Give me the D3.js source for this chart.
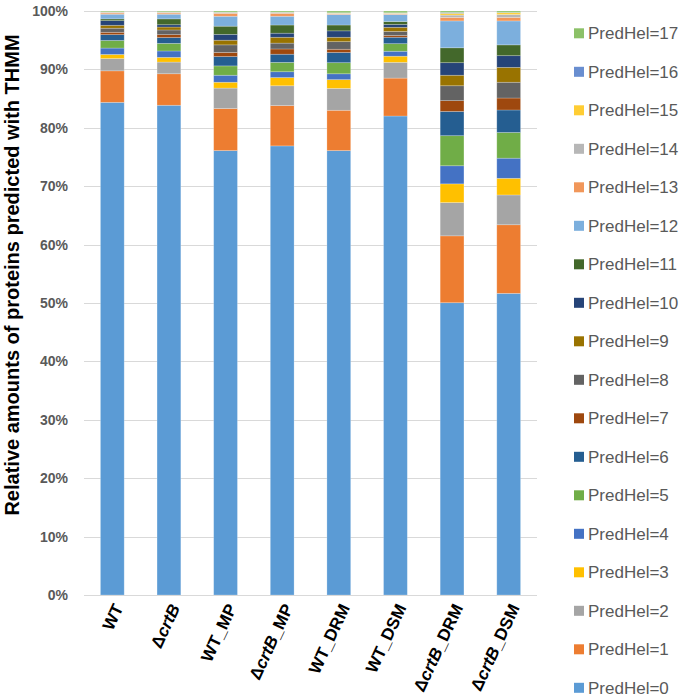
<!DOCTYPE html>
<html>
<head>
<meta charset="utf-8">
<script src="https://cdn.jsdelivr.net/npm/d3@7"></script>
<style>
  html, body { margin: 0; padding: 0; background: #fff; }
  svg { display: block; font-family: Arial, "Liberation Sans", sans-serif; }
</style>
</head>
<body>
<svg id="chart" width="685" height="700"></svg>
<script>
// ---- data ----
const categories = ["WT", "ΔcrtB", "WT_MP", "ΔcrtB_MP", "WT_DRM", "WT_DSM", "ΔcrtB_DRM", "ΔcrtB_DSM"];
const seriesNames = ["PredHel=0","PredHel=1","PredHel=2","PredHel=3","PredHel=4","PredHel=5","PredHel=6","PredHel=7","PredHel=8","PredHel=9","PredHel=10","PredHel=11","PredHel=12","PredHel=13","PredHel=14","PredHel=15","PredHel=16","PredHel=17"];
const predHel0  = [84.4, 83.9, 76.1, 76.9, 76.1, 82.1, 50.05, 51.65];
const predHel1  = [5.4, 5.4, 7.2, 6.9, 6.9, 6.5, 11.45, 11.75];
const predHel2  = [2.1, 2.0, 3.5, 3.4, 3.75, 2.7, 5.7, 5.1];
const predHel3  = [0.7, 0.8, 1.0, 1.4, 1.5, 1.05, 3.2, 2.85];
const predHel4  = [1.1, 1.1, 1.2, 1.0, 1.0, 0.85, 3.1, 3.45];
const predHel5  = [1.3, 1.3, 1.6, 1.6, 1.9, 1.3, 5.15, 4.4];
const predHel6  = [1.0, 1.0, 1.6, 1.4, 1.75, 1.1, 4.15, 3.85];
const predHel7  = [0.4, 0.5, 0.7, 0.9, 0.55, 0.3, 1.85, 2.05];
const predHel8  = [0.7, 0.8, 1.3, 1.0, 1.3, 0.7, 2.55, 2.7];
const predHel9  = [0.5, 0.5, 0.8, 1.0, 0.75, 0.7, 1.8, 2.55];
const predHel10 = [0.8, 0.4, 1.0, 0.7, 1.1, 0.5, 2.15, 2.0];
const predHel11 = [0.3, 1.0, 1.4, 1.4, 1.0, 0.5, 2.55, 1.85];
const predHel12 = [0.8, 0.8, 1.7, 1.5, 1.8, 1.2, 4.6, 4.1];
const predHel13 = [0.2, 0.2, 0.5, 0.5, 0.1, 0.1, 0.6, 0.6];
const predHel14 = [0.1, 0.1, 0.1, 0.1, 0.1, 0.1, 0.4, 0.5];
const predHel15 = [0.05, 0.05, 0.05, 0.05, 0.05, 0.05, 0.3, 0.3];
const predHel16 = [0.05, 0.05, 0.05, 0.05, 0.05, 0.05, 0.15, 0.05];
const predHel17 = [0.15, 0.15, 0.2, 0.2, 0.3, 0.3, 0.25, 0.25];
const seriesValues = [predHel0, predHel1, predHel2, predHel3, predHel4, predHel5, predHel6, predHel7, predHel8, predHel9, predHel10, predHel11, predHel12, predHel13, predHel14, predHel15, predHel16, predHel17];
const colors = ["#5B9BD5","#ED7D31","#A5A5A5","#FFC000","#4472C4","#70AD47","#255E91","#9E480E","#636363","#997300","#264478","#43682B","#7CAFDD","#F1975A","#B7B7B7","#FFCD33","#698ED0","#8CC168"];
const yTicks = [0, 0.1, 0.2, 0.3, 0.4, 0.5, 0.6, 0.7, 0.8, 0.9, 1.0];
const yTitle = "Relative amounts of proteins predicted with THMM";

// ---- table ----
const table = categories.map((c, i) => {
  const row = { cat: c };
  seriesNames.forEach((s, k) => row[s] = seriesValues[k][i]);
  return row;
});

const svg = d3.select("#chart");
const plot = { left: 84, right: 537, top: 11, bottom: 595 };

const x = d3.scaleBand().domain(categories).range([plot.left, plot.right]).paddingInner(0.58).paddingOuter(0.29);
const y = d3.scaleLinear().domain([0, 1]).range([plot.bottom, plot.top]);
const color = d3.scaleOrdinal().domain(seriesNames).range(colors);

const stack = d3.stack().keys(seriesNames).offset(d3.stackOffsetExpand);
const stacked = stack(table);

// gridlines
svg.append("g").selectAll("line").data(yTicks).join("line")
  .attr("x1", plot.left).attr("x2", plot.right)
  .attr("y1", d => Math.round(y(d)) + 0.5).attr("y2", d => Math.round(y(d)) + 0.5)
  .attr("stroke", "#D9D9D9").attr("stroke-width", 1);

// y tick labels
svg.append("g").selectAll("text").data(yTicks).join("text")
  .attr("x", 68).attr("y", d => y(d)).attr("dy", "0.35em")
  .attr("text-anchor", "end")
  .attr("font-size", 14).attr("font-weight", "bold").attr("fill", "#595959")
  .text(d => d3.format(".0%")(d));

// bars
svg.append("g").selectAll("g").data(stacked).join("g")
  .attr("fill", d => color(d.key))
  .selectAll("rect").data(d => d).join("rect")
  .attr("x", d => x(d.data.cat))
  .attr("width", x.bandwidth())
  .attr("y", d => y(d[1]))
  .attr("height", d => Math.max(0, y(d[0]) - y(d[1])))
  .attr("stroke", "#ffffff").attr("stroke-opacity", 0.3).attr("stroke-width", 0.75);

// x axis line
svg.append("line")
  .attr("x1", plot.left).attr("x2", plot.right)
  .attr("y1", plot.bottom + 0.5).attr("y2", plot.bottom + 0.5)
  .attr("stroke", "#D9D9D9").attr("stroke-width", 1);

// x labels
const xl = svg.append("g").selectAll("text").data(categories).join("text")
  .attr("transform", d => `translate(${x(d) + x.bandwidth() / 2 + 6},${plot.bottom + 10}) rotate(-65)`)
  .attr("text-anchor", "end")
  .attr("dy", "0.35em")
  .attr("font-size", 17).attr("font-weight", "bold").attr("fill", "#000");
xl.each(function(d) {
  const t = d3.select(this);
  if (d.startsWith("Δ")) {
    t.append("tspan").text("Δ");
    t.append("tspan").attr("font-style", "italic").text("crtB");
    const rest = d.slice(5);
    if (rest) t.append("tspan").text(rest);
  } else {
    t.text(d);
  }
});

// y title
svg.append("text")
  .attr("transform", `translate(19,275) rotate(-90)`)
  .attr("text-anchor", "middle")
  .attr("font-size", 20).attr("font-weight", "bold").attr("fill", "#000")
  .text(yTitle);

// legend
const legendOrder = seriesNames.slice().reverse();
const lg = svg.append("g").selectAll("g").data(legendOrder).join("g")
  .attr("transform", (d, i) => `translate(574,${33.3 + i * 38.5})`);
lg.append("rect").attr("x", 0).attr("y", -5).attr("width", 10).attr("height", 10)
  .attr("fill", d => color(d));
lg.append("text").attr("x", 14).attr("dy", "0.35em")
  .attr("font-size", 17).attr("fill", "#595959")
  .text(d => d);
</script>
</body>
</html>
